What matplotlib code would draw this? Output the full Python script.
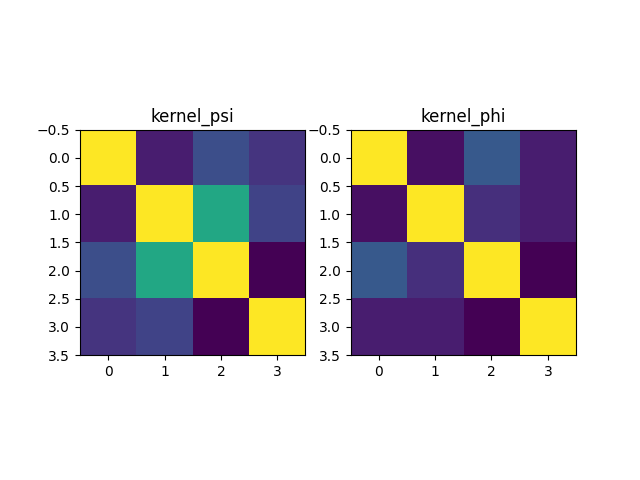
import numpy as np
import matplotlib
matplotlib.use("Agg")
import matplotlib.pyplot as plt

kernel_psi = np.array([
    [1.00, 0.08, 0.24, 0.15],
    [0.08, 1.00, 0.60, 0.20],
    [0.24, 0.60, 1.00, 0.00],
    [0.15, 0.20, 0.00, 1.00],
])
kernel_phi = np.array([
    [1.00, 0.04, 0.28, 0.08],
    [0.04, 1.00, 0.135, 0.08],
    [0.28, 0.135, 1.00, 0.00],
    [0.08, 0.08, 0.00, 1.00],
])
titles = ["kernel_psi", "kernel_phi"]

fig, axes = plt.subplots(1, 2, figsize=(6.4, 4.8), dpi=100)
for ax, data, t in zip(axes, [kernel_psi, kernel_phi], titles):
    ax.imshow(data, cmap="viridis")
    ax.set_title(t)
fig.savefig("out.png")
